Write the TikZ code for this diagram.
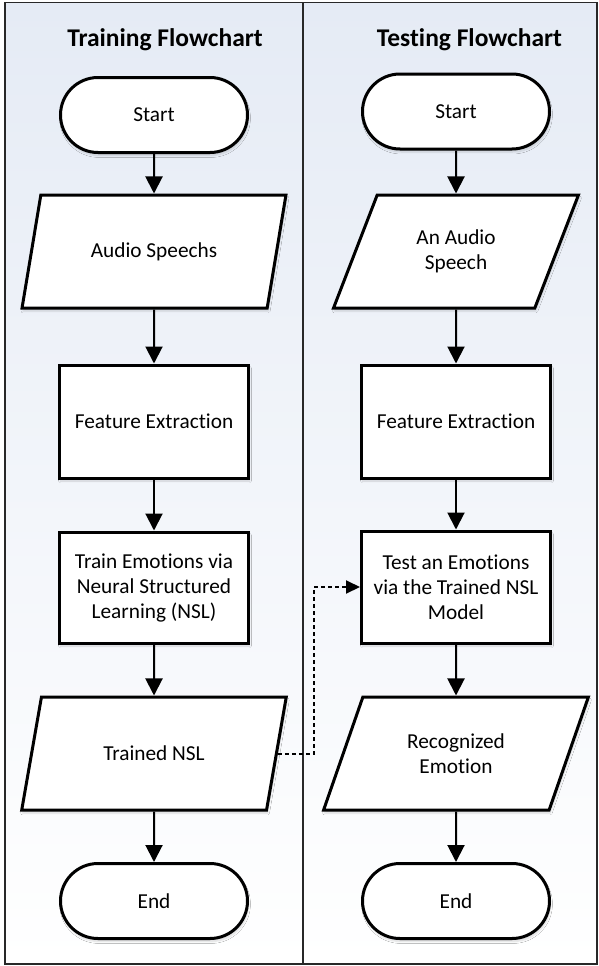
\documentclass[tikz,border=0pt]{standalone}
\usepackage{fontspec}
\setmainfont{Carlito}[Ligatures={NoCommon,NoContextual}]
\usetikzlibrary{shapes.geometric,shapes.misc,arrows.meta,shadows.blur}
\definecolor{bgtop}{RGB}{229,235,245}
\definecolor{framec}{RGB}{40,40,40}
\begin{document}
\begin{tikzpicture}[x=1pt,y=-1pt,
  shapebase/.style={draw=black, line width=3pt, fill=white, align=center,
    font=\fontsize{21.3}{25}\selectfont, inner sep=2pt,
    blur shadow={shadow blur steps=6, shadow xshift=1pt, shadow yshift=-3pt, shadow opacity=15}},
  term/.style={shapebase, rounded rectangle, minimum width=191pt, minimum height=75pt},
  proc/.style={shapebase, rectangle, minimum width=189pt, minimum height=113pt},
  para/.style={shapebase, trapezium, trapezium left angle=64, trapezium right angle=116,
    trapezium stretches=true, minimum height=113pt},
  title/.style={font=\bfseries\fontsize{25.5}{30}\selectfont, anchor=base},
  flow/.style={line width=2pt, -{Triangle[length=17pt,width=17pt]}},
  dflow/.style={line width=2pt, dash pattern=on 4pt off 3pt, -{Triangle[length=14pt,width=13pt]}}
]
\useasboundingbox (0,0) rectangle (598,966);
% background and frame
\fill[top color=bgtop, bottom color=white] (5,2.5) rectangle (597,964);
\draw[framec, line width=1.5pt] (5,2.5) rectangle (597,964);
\draw[framec, line width=1.5pt] (303,2.5) -- (303,964);

% titles
\node[title] (tt1) at (165,47) {Training Flowchart};
\node[title] (tt2) at (469.5,47) {Testing Flowchart};

% training column
\node[term] (s1) at (154,115) {Start};
\node[para, minimum width=264pt] (a1) at (154,251.5) {Audio Speechs};
\node[proc] (f1) at (154,421.5) {Feature Extraction};
\node[proc, minimum height=111pt] (t1) at (154,587.5) {Train Emotions via\\Neural Structured\\Learning (NSL)};
\node[para, minimum width=265pt] (n1) at (154,753.5) {Trained NSL};
\node[term] (e1) at (154,901) {End};

% testing column
\node[term] (s2) at (456,111.5) {Start};
\node[para, minimum width=245pt] (a2) at (456,251.5) {An Audio\\Speech};
\node[proc] (f2) at (456,421.5) {Feature Extraction};
\node[proc, minimum height=112pt] (t2) at (456,587) {Test an Emotions\\via the Trained NSL\\Model};
\node[para, minimum width=265pt] (r2) at (456,753.5) {Recognized\\Emotion};
\node[term] (e2) at (456,901) {End};

% arrows
\draw[flow] (s1.south) -- (a1.north);
\draw[flow] (a1.south) -- (f1.north);
\draw[flow] (f1.south) -- (t1.north);
\draw[flow] (t1.south) -- (n1.north);
\draw[flow] (n1.south) -- (e1.north);

\draw[flow] (s2.south) -- (a2.north);
\draw[flow] (a2.south) -- (f2.north);
\draw[flow] (f2.south) -- (t2.north);
\draw[flow] (t2.south) -- (r2.north);
\draw[flow] (r2.south) -- (e2.north);

% dashed connector
\coordinate (bend) at (314,0);
\draw[dflow] (n1.east) -- (n1.east -| bend) |- (t2.west);
\end{tikzpicture}
\end{document}
